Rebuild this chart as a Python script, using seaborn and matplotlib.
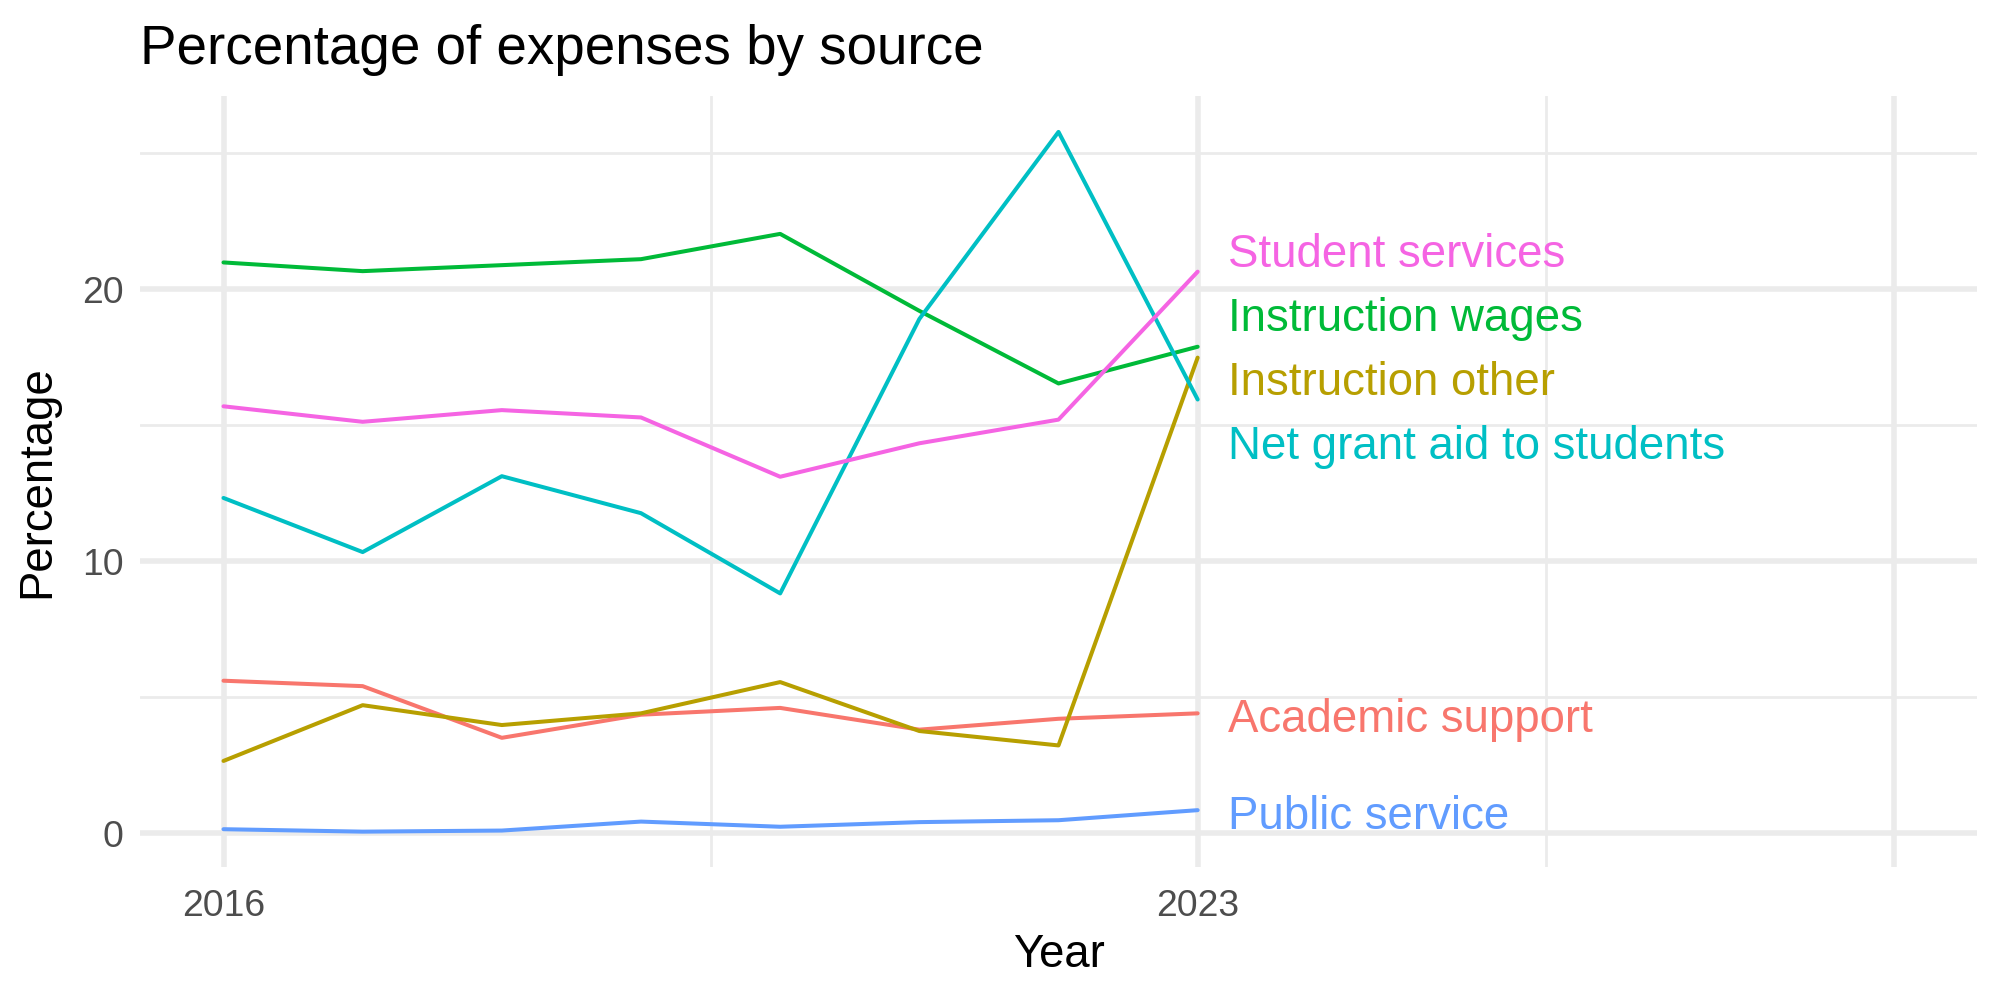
import numpy as np
import pandas as pd
import matplotlib
matplotlib.use("Agg")
import matplotlib.pyplot as plt
import seaborn as sns

years = [2016, 2017, 2018, 2019, 2020, 2021, 2022, 2023]

academic_support = [5.6, 5.4, 3.5, 4.35, 4.6, 3.8, 4.2, 4.4]
instruction_other = [2.65, 4.7, 3.97, 4.4, 5.55, 3.75, 3.22, 17.48]
instruction_wages = [20.98, 20.66, 20.88, 21.1, 22.03, 19.2, 16.53, 17.88]
net_grant_aid = [12.32, 10.33, 13.12, 11.76, 8.81, 18.9, 25.78, 15.94]
public_service = [0.14, 0.05, 0.09, 0.42, 0.23, 0.4, 0.47, 0.84]
student_services = [15.69, 15.12, 15.55, 15.28, 13.1, 14.33, 15.2, 20.64]

sources = ["Academic support", "Instruction other", "Instruction wages",
           "Net grant aid to students", "Public service", "Student services"]
series = [academic_support, instruction_other, instruction_wages,
          net_grant_aid, public_service, student_services]
colors = ["#F8766D", "#B79F00", "#00BA38", "#00BFC4", "#619CFF", "#F564E3"]

x_breaks = [2016, 2023, 2028]
x_labels = ["2016", "2023", ""]

df = pd.DataFrame({
    "Year": np.tile(years, len(sources)),
    "Percentage": np.concatenate(series),
    "Source": np.repeat(sources, len(years)),
})

sns.set_theme(style="whitegrid")
plt.rcParams["font.family"] = ["Liberation Sans", "DejaVu Sans"]
plt.rcParams["text.color"] = "black"

fig = plt.figure(figsize=(10, 5), dpi=200)
ax = fig.add_axes([0.07, 0.133, 0.9185, 0.771])

sns.lineplot(data=df, x="Year", y="Percentage", hue="Source",
             palette=dict(zip(sources, colors)), linewidth=1.45,
             legend=False, ax=ax)

# simple label repel, like ggrepel on the last points
def spread(vals, gap):
    vals = np.asarray(vals, float)
    order = np.argsort(vals)
    pos = vals[order].copy()
    for _ in range(500):
        moved = False
        for i in range(1, len(pos)):
            d = pos[i] - pos[i - 1]
            if d < gap - 1e-9:
                s = (gap - d) / 2
                pos[i] += s
                pos[i - 1] -= s
                moved = True
        if not moved:
            break
    out = np.empty_like(pos)
    out[order] = pos
    return out

last = [s[-1] for s in series]
label_y = spread(last, 2.35)
for name, col, ly in zip(sources, colors, label_y):
    ax.annotate(name, xy=(years[-1], ly), xytext=(11, -6.8),
                textcoords="offset points", color=col, fontsize=16.45,
                ha="left", va="baseline")

ax.set_xlim(2015.4, 2028.6)
ax.set_ylim(-1.25, 27.1)
ax.set_xticks(x_breaks)
ax.set_xticklabels(x_labels)
ax.set_xticks([2019.5, 2025.5], minor=True)
ax.set_yticks([0, 10, 20])
ax.set_yticks([5, 15, 25], minor=True)

ax.grid(which="major", color="#EBEBEB", linewidth=2.0)
ax.grid(which="minor", color="#EBEBEB", linewidth=1.0)
ax.set_axisbelow(True)
for sp in ax.spines.values():
    sp.set_visible(False)
ax.tick_params(which="both", length=0, labelsize=13.4, labelcolor="#4D4D4D")
ax.tick_params(axis="x", pad=8)
ax.tick_params(axis="y", pad=6)

ax.set_xlabel("Year", fontsize=16.4, color="black", labelpad=3)
ax.set_ylabel("Percentage", fontsize=16.4, color="black", labelpad=8)
fig.text(0.07, 0.936, "Percentage of expenses by source", fontsize=19.7,
         ha="left", va="baseline", color="black")

fig.savefig("out.png", dpi=200, facecolor="white")
